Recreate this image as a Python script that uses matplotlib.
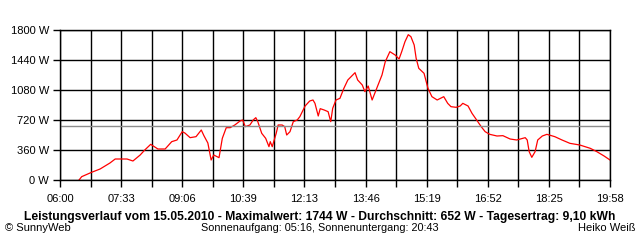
import numpy as np
import matplotlib
matplotlib.use("Agg")
import matplotlib.pyplot as plt

# minutes after 06:00 and power in W
minutes = [29, 33, 48, 61, 76, 84, 102, 111, 122, 129, 138, 149, 160, 170, 178,
           186, 190, 198, 207, 215, 219, 225, 230, 234, 242, 247, 253, 259, 266,
           274, 278, 282, 289, 294, 298, 301, 307, 313, 318, 320, 323, 329, 332,
           338, 342, 345, 350, 355, 361, 365, 370, 373, 380, 385, 388, 393, 396,
           402, 408, 412, 415, 420, 426, 432, 438, 443, 449, 453, 460, 464, 469,
           475, 479, 484, 490, 495, 502, 510, 516, 520, 525, 530, 534, 539, 542,
           546, 554, 560, 566, 574, 581, 584, 590, 595, 603, 609, 613, 621, 627,
           633, 641, 647, 654, 665, 674, 685, 695, 708, 711, 714, 718, 723, 727,
           734, 741, 753, 764, 776, 791, 807, 817, 828, 837]
watts = [0, 40, 92, 132, 204, 252, 252, 228, 300, 360, 428, 372, 372, 460, 480,
         580, 564, 508, 520, 600, 532, 444, 240, 300, 268, 500, 628, 628, 660,
         708, 720, 640, 660, 720, 748, 700, 560, 500, 400, 460, 400, 560, 660,
         660, 640, 540, 580, 700, 720, 760, 840, 888, 948, 960, 920, 768, 856,
         840, 820, 700, 860, 960, 980, 1100, 1200, 1240, 1288, 1200, 1140, 1060, 1128,
         960, 1040, 1140, 1260, 1420, 1540, 1500, 1452, 1540, 1660, 1744, 1720, 1620, 1460,
         1340, 1280, 1100, 1000, 960, 988, 1000, 920, 880, 872, 888, 920, 888, 800,
         732, 640, 580, 548, 528, 532, 492, 480, 508, 480, 340, 272, 340, 480,
         528, 548, 520, 480, 440, 420, 380, 340, 288, 240]

average = 652
x_labels = ["06:00", "07:33", "09:06", "10:39", "12:13", "13:46",
            "15:19", "16:52", "18:25", "19:58"]
y_values = [0, 360, 720, 1080, 1440, 1800]

title = ("Leistungsverlauf vom 15.05.2010 - Maximalwert: 1744 W - "
         "Durchschnitt: 652 W - Tagesertrag: 9,10 kWh")

plt.rcParams['font.family'] = ['Liberation Sans', 'DejaVu Sans']

fig = plt.figure(figsize=(6.4, 2.4), dpi=100)
ax = fig.add_axes([60/640, 60/240, 550/640, 150/240])

span = 837
major = np.linspace(0, span, 10)
minor = np.linspace(0, span, 19)

ax.plot(minutes, watts, color='red', lw=0.9)
ax.axhline(average, color='#8c8c8c', lw=1.0)

ax.set_xlim(0, span)
ax.set_ylim(0, 1800)
ax.set_xticks(major)
ax.set_xticklabels(x_labels)
ax.set_xticks(minor, minor=True)
ax.set_yticks(y_values)
ax.set_yticklabels([f"{v} W" for v in y_values])

ax.grid(True, which='both', color='black', lw=1.0)
ax.set_axisbelow(True)
for s in ax.spines.values():
    s.set_linewidth(1.0)
ax.tick_params(axis='both', which='both', length=5, width=1.0, labelsize=8, pad=3)
ax.tick_params(axis='x', which='major', pad=5)

fig.text(0.5, 1 - 217/240, title, ha='center', va='center',
         fontsize=8.75, fontweight='bold')
fig.text(5/640, 1 - 228/240, "© SunnyWeb", ha='left', va='center', fontsize=8)
fig.text(320/640, 1 - 228/240, "Sonnenaufgang: 05:16, Sonnenuntergang: 20:43",
         ha='center', va='center', fontsize=7.8)
fig.text(635/640, 1 - 228/240, "Heiko Weiß", ha='right', va='center', fontsize=8)

fig.savefig("out.png", dpi=100)
